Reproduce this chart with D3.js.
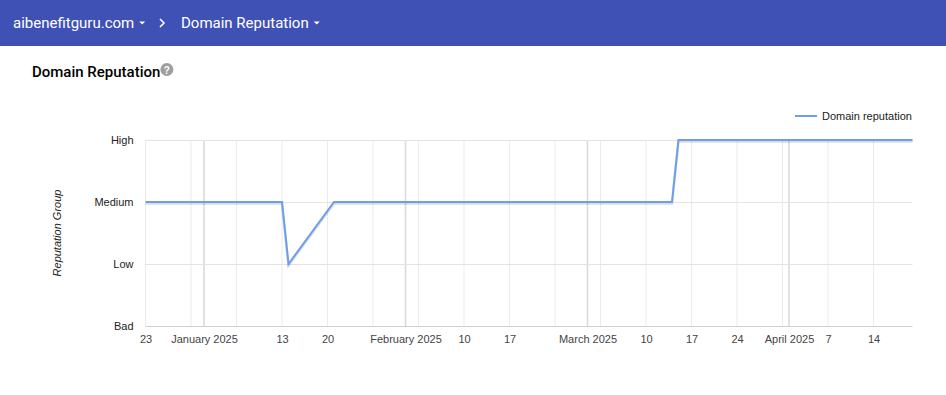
<!DOCTYPE html>
<html>
<head>
<meta charset="utf-8">
<script src="https://cdn.jsdelivr.net/npm/d3@7"></script>
<style>
  body { margin: 0; background: #fff; font-family: Roboto, Arial, sans-serif; }
  svg { display: block; }
</style>
</head>
<body>
<svg id="chart" width="946" height="395"></svg>
<script>
// reputation levels, bottom to top
var levels = ["Bad", "Low", "Medium", "High"];

// vertices of the reputation line
var dates = ["2024-12-23", "2025-01-13", "2025-01-14", "2025-01-21", "2025-03-14", "2025-03-15", "2025-04-20"];
var reputation = ["Medium", "Medium", "Low", "Medium", "Medium", "High", "High"];

// x tick labels as drawn (others are skipped by the chart)
var tickDates = ["2024-12-23", "2025-01-01", "2025-01-13", "2025-01-20", "2025-02-01", "2025-02-10", "2025-02-17",
                 "2025-03-01", "2025-03-10", "2025-03-17", "2025-03-24", "2025-04-01", "2025-04-07", "2025-04-14"];
var tickLabels = ["23", "January 2025", "13", "20", "February 2025", "10", "17",
                  "March 2025", "10", "17", "24", "April 2025", "7", "14"];

var parse = d3.utcParse("%Y-%m-%d");
var svg = d3.select("#chart");

// header bar
svg.append("rect").attr("width", 946).attr("height", 46).attr("fill", "#3f51b5");
var hdr = svg.append("g").attr("font-family", "Roboto, sans-serif").attr("font-size", 15).attr("fill", "#fff");
var crumb1 = hdr.append("text").attr("x", 13).attr("y", 28).text("aibenefitguru.com");
var e1 = crumb1.node().getBBox();
hdr.append("path").attr("d", "M" + (e1.x + e1.width + 5) + ",21.5 l6,0 l-3,3 z");
hdr.append("path").attr("d", "M160,19 l4,4 l-4,4").attr("fill", "none").attr("stroke", "#fff").attr("stroke-width", 1.6);
var crumb2 = hdr.append("text").attr("x", 181).attr("y", 28).text("Domain Reputation");
var e2 = crumb2.node().getBBox();
hdr.append("path").attr("d", "M" + (e2.x + e2.width + 5) + ",21.5 l6,0 l-3,3 z");

// title
var title = svg.append("text").attr("x", 32).attr("y", 77).attr("font-family", "Roboto, sans-serif")
  .attr("font-size", 15).attr("font-weight", 500).attr("fill", "#000").text("Domain Reputation");
var tb = title.node().getBBox();
var qx = tb.x + tb.width + 6.5;
svg.append("circle").attr("cx", qx).attr("cy", 69.5).attr("r", 6.5).attr("fill", "#9e9e9e");
svg.append("text").attr("x", qx).attr("y", 73.5).attr("text-anchor", "middle").attr("font-size", 10)
  .attr("font-weight", "bold").attr("fill", "#fff").attr("font-family", "Arial, sans-serif").text("?");

// scales
var x = d3.scaleUtc().domain([parse("2024-12-23"), parse("2025-04-20")]).range([145.5, 912.5]);
var y = d3.scalePoint().domain(levels).range([326, 140]);

var plot = svg.append("g").attr("font-family", "Arial, Liberation Sans, sans-serif");

// weekly gridlines (Mondays)
plot.selectAll(".wk").data(d3.utcMonday.range(parse("2024-12-23"), parse("2025-04-21")))
  .enter().append("line").attr("class", "wk")
  .attr("x1", function(d) { return x(d); }).attr("x2", function(d) { return x(d); })
  .attr("y1", 140).attr("y2", 326).attr("stroke", "#ebebeb").attr("stroke-width", 1);

// monthly gridlines
plot.selectAll(".mo").data(d3.utcMonth.range(parse("2025-01-01"), parse("2025-04-21")))
  .enter().append("line").attr("class", "mo")
  .attr("x1", function(d) { return x(d); }).attr("x2", function(d) { return x(d); })
  .attr("y1", 140).attr("y2", 326).attr("stroke", "#dadada").attr("stroke-width", 1.6);

// horizontal gridlines + y axis
var yAxis = d3.axisLeft(y).tickSize(-(912.5 - 145.5)).tickPadding(12);
var yg = plot.append("g").attr("transform", "translate(145.5,0)").call(yAxis);
yg.select(".domain").remove();
yg.selectAll(".tick line").attr("stroke", function(d) { return d === "Bad" ? "#cfcfcf" : "#e3e3e3"; });
yg.selectAll(".tick text").attr("font-size", 11).attr("fill", "#222").attr("dy", "0.35em").attr("font-family", "Arial, Liberation Sans, sans-serif");

// x axis labels
var xAxis = d3.axisBottom(x).tickValues(tickDates.map(parse))
  .tickFormat(function(d, i) { return tickLabels[i]; }).tickSize(0).tickPadding(9);
var xg = plot.append("g").attr("transform", "translate(0,326)").call(xAxis);
xg.select(".domain").remove();
xg.selectAll(".tick text").attr("font-size", 11).attr("fill", "#444").attr("font-family", "Arial, Liberation Sans, sans-serif");

// y axis title
svg.append("text").attr("transform", "translate(61,233) rotate(-90)").attr("text-anchor", "middle")
  .attr("font-family", "Arial, Liberation Sans, sans-serif").attr("font-size", 11).attr("font-style", "italic")
  .attr("fill", "#222").text("Reputation Group");

// the line
var pts = dates.map(function(d, i) { return [parse(d), reputation[i]]; });
var line = d3.line().x(function(d) { return x(d[0]); }).y(function(d) { return y(d[1]); });
plot.append("path").datum(pts).attr("d", line).attr("fill", "none")
  .attr("stroke", "rgba(0,0,0,0.14)").attr("stroke-width", 2.5).attr("transform", "translate(0,1.5)");
plot.append("path").datum(pts).attr("d", line).attr("fill", "none")
  .attr("stroke", "#6d9eeb").attr("stroke-width", 2);

// legend
svg.append("line").attr("x1", 795).attr("x2", 817).attr("y1", 116).attr("y2", 116)
  .attr("stroke", "#6d9eeb").attr("stroke-width", 2);
svg.append("text").attr("x", 822).attr("y", 120).attr("font-family", "Arial, Liberation Sans, sans-serif")
  .attr("font-size", 11).attr("fill", "#222").text("Domain reputation");
</script>
</body>
</html>
